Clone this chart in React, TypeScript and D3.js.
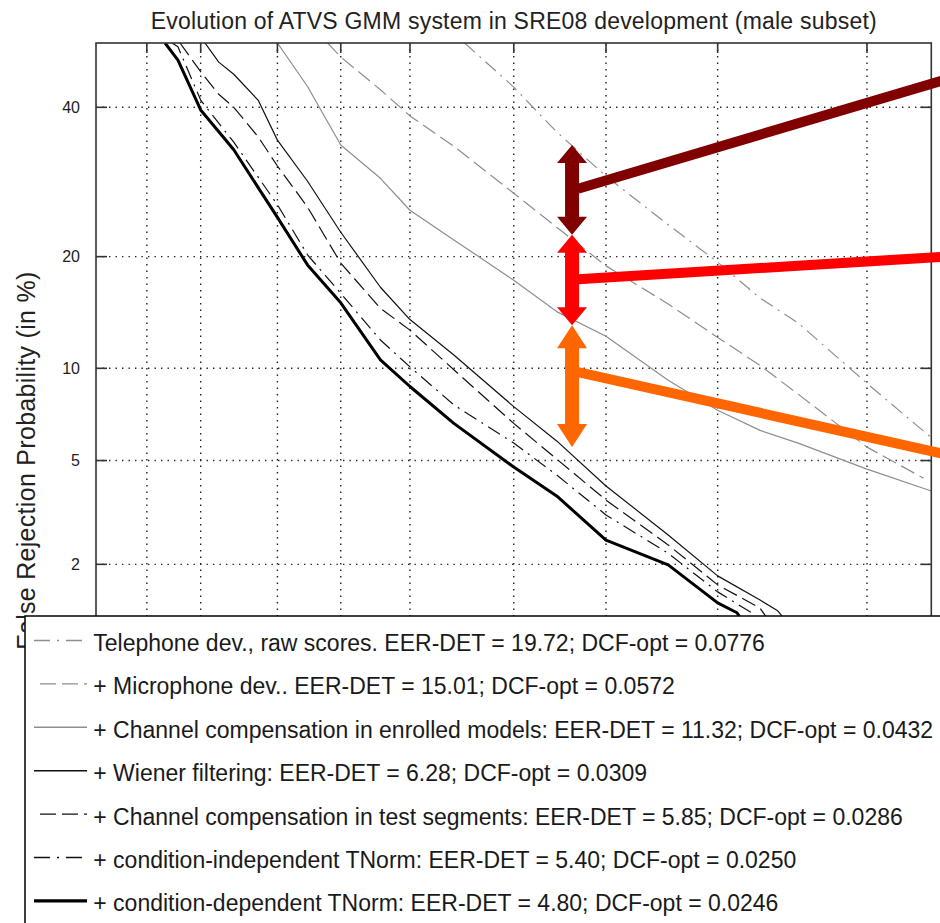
import React from 'react';
import * as d3 from 'd3';

// Inverse of the standard normal CDF (Acklam's rational approximation)
function probit(p: number): number {
  const a = [-3.969683028665376e1, 2.209460984245205e2, -2.759285104469687e2, 1.38357751867269e2, -3.066479806614716e1, 2.506628277459239];
  const b = [-5.447609879822406e1, 1.615858368580409e2, -1.556989798598866e2, 6.680131188771972e1, -1.328068155288572e1];
  const c = [-7.784894002430293e-3, -3.223964580411365e-1, -2.400758277161838, -2.549732539343734, 4.374664141464968, 2.938163982698783];
  const d = [7.784695709041462e-3, 3.224671290700398e-1, 2.445134137142996, 3.754408661907416];
  const pLow = 0.02425;
  if (p < pLow) {
    const q = Math.sqrt(-2 * Math.log(p));
    return (((((c[0] * q + c[1]) * q + c[2]) * q + c[3]) * q + c[4]) * q + c[5]) /
      ((((d[0] * q + d[1]) * q + d[2]) * q + d[3]) * q + 1);
  }
  if (p <= 1 - pLow) {
    const q = p - 0.5;
    const r = q * q;
    return (((((a[0] * r + a[1]) * r + a[2]) * r + a[3]) * r + a[4]) * r + a[5]) * q /
      (((((b[0] * r + b[1]) * r + b[2]) * r + b[3]) * r + b[4]) * r + 1);
  }
  const q = Math.sqrt(-2 * Math.log(1 - p));
  return -(((((c[0] * q + c[1]) * q + c[2]) * q + c[3]) * q + c[4]) * q + c[5]) /
    ((((d[0] * q + d[1]) * q + d[2]) * q + d[3]) * q + 1);
}

const TITLE = 'Evolution of ATVS GMM system in SRE08 development (male subset)';
const Y_LABEL = 'False Rejection Probability (in %)';

// Axis limits and grid (percent)
const AXIS_MIN = 0.05;
const AXIS_MAX = 50;
const FA_GRID = [0.1, 0.2, 0.5, 1, 2, 5, 10, 20, 40];
const FR_TICKS = [2, 5, 10, 20, 40];

// DET curves: [false acceptance %, false rejection %]
const telephoneRaw = [[3.3, 50], [5, 43.1], [7, 36.3], [10, 30.0], [15, 23.7], [20, 19.4], [25, 15.75], [30, 13.5], [40, 9.0], [50, 6.0]];
const microphoneDev = [[0.87, 50], [1, 47.8], [1.5, 42.7], [2, 38.7], [3, 34.2], [5, 27.7], [7, 23.4], [10, 19.0], [15, 15.2], [20, 12.3], [25, 10.2], [30, 8.33], [40, 5.57], [48.8, 4.32]];
const channelEnrolled = [[0.5, 50], [0.7, 43.2], [1, 34.4], [1.5, 29.7], [2, 25.5], [3, 21.9], [5, 17.5], [7, 14.5], [10, 12.4], [15, 9.2], [20, 7.4], [25, 6.35], [30, 5.75], [40, 4.66], [50, 3.88]];
const wienerFiltering = [[0.211, 50], [0.25, 47.0], [0.3, 45.1], [0.4, 41.1], [0.5, 35.1], [0.7, 29.3], [1, 22.8], [1.5, 16.8], [2, 13.8], [3, 10.95], [5, 7.6], [7, 5.85], [10, 4.05], [15, 2.63], [20, 1.79], [25, 1.41], [27.2, 1.27], [28.9, 1.09]];
const channelTest = [[0.154, 50], [0.2, 45.5], [0.25, 42.0], [0.3, 40.0], [0.4, 35.6], [0.5, 31.4], [0.7, 25.9], [1, 19.3], [1.5, 14.8], [2, 12.9], [3, 9.9], [5, 6.7], [7, 5.06], [10, 3.59], [15, 2.40], [20, 1.64], [25, 1.30], [26.5, 1.09]];
const tnormIndependent = [[0.139, 50], [0.15, 49.4], [0.2, 41.1], [0.3, 34.8], [0.5, 26.2], [0.7, 20.2], [1, 16.2], [1.5, 12.1], [2, 10.1], [3, 7.7], [5, 5.75], [7, 4.44], [10, 3.15], [15, 2.22], [20, 1.53], [23.8, 1.25], [25.3, 1.09]];
const tnormDependent = [[0.127, 50], [0.15, 47.3], [0.2, 39.6], [0.3, 33.7], [0.5, 24.6], [0.7, 19.1], [1, 15.3], [1.5, 10.6], [2, 8.8], [3, 6.7], [5, 4.74], [7, 3.72], [10, 2.51], [15, 1.99], [20, 1.37], [22.2, 1.24], [23.2, 1.09]];

const SERIES_DATA = [telephoneRaw, microphoneDev, channelEnrolled, wienerFiltering, channelTest, tnormIndependent, tnormDependent];

const LEGEND_LABELS = [
  'Telephone dev., raw scores. EER-DET = 19.72; DCF-opt = 0.0776',
  '+ Microphone dev.. EER-DET = 15.01; DCF-opt = 0.0572',
  '+ Channel compensation in enrolled models: EER-DET = 11.32; DCF-opt = 0.0432',
  '+ Wiener filtering: EER-DET = 6.28; DCF-opt = 0.0309',
  '+ Channel compensation in test segments: EER-DET = 5.85; DCF-opt = 0.0286',
  '+ condition-independent TNorm: EER-DET = 5.40; DCF-opt = 0.0250',
  '+ condition-dependent TNorm: EER-DET = 4.80; DCF-opt = 0.0246',
];

const GREY = '#8e8e8e';
const DASH_DOT = '14,6,2,6';
const DASHED = '15,6';
const SERIES_STYLE = [
  { color: GREY, width: 1.2, dash: DASH_DOT, sampleStart: 34, sampleEnd: 82, sampleDash: '16,7,2,7' },
  { color: GREY, width: 1.2, dash: DASHED, sampleStart: 40, sampleEnd: 87, sampleDash: '16,6' },
  { color: GREY, width: 1.2, dash: 'none', sampleStart: 34, sampleEnd: 87, sampleDash: 'none' },
  { color: '#111', width: 1.2, dash: 'none', sampleStart: 34, sampleEnd: 87, sampleDash: 'none' },
  { color: '#111', width: 1.2, dash: DASHED, sampleStart: 40, sampleEnd: 87, sampleDash: '16,6' },
  { color: '#111', width: 1.2, dash: DASH_DOT, sampleStart: 34, sampleEnd: 82, sampleDash: '16,7,2,7' },
  { color: '#000', width: 3, dash: 'none', sampleStart: 34, sampleEnd: 87, sampleDash: 'none' },
];

// Improvement arrows, all at one false acceptance level (percent)
const ARROW_FA = 7.85;
const ARROW_TOP = [34.4, 22.5, 13.3];
const ARROW_BOTTOM = [22.5, 13.3, 5.57];
const LINK_START_FR = [28.3, 17.6, 9.74];
const LINK_END_FA = 52;
const LINK_END_FR = [44.2, 20.0, 5.27];
const ARROW_COLORS = ['#800000', '#ff0000', '#ff6600'];
const ARROW_HEAD = [18, 18, 23];

const FONT = '"Liberation Sans", Arial, Helvetica, sans-serif';

export default function App() {
  const W = 940;
  const H = 923;
  const left = 96;
  const top = 43;
  const size = 835.3;

  const x = d3.scaleLinear().domain([probit(AXIS_MIN / 100), probit(AXIS_MAX / 100)]).range([left, left + size]);
  const y = d3.scaleLinear().domain([probit(AXIS_MAX / 100), probit(AXIS_MIN / 100)]).range([top, top + size]);
  const px = (p: number) => x(probit(p / 100));
  const py = (p: number) => y(probit(p / 100));
  const line = d3.line<number[]>().x(d => px(d[0])).y(d => py(d[1]));

  const right = left + size;
  const bottom = top + size;

  const legendTop = 616;
  const legendLeft = 25;
  const rowGap = 43.4;
  const firstBaseline = 651;

  const shaftHalf = 7;
  const headHalf = 15;

  return (
    <svg width={W} height={H} viewBox={`0 0 ${W} ${H}`}
      style={{ position: 'absolute', left: 0, top: 0, display: 'block', background: '#fff' }}
      fontFamily={FONT}>
      <defs>
        <clipPath id="plot-area">
          <rect x={left} y={top} width={size} height={size} />
        </clipPath>
      </defs>
      <rect x={0} y={0} width={W} height={H} fill="#fff" />

      {/* dotted grid */}
      <g stroke="#222" strokeWidth={1.4} strokeDasharray="1.4,5.1">
        {FA_GRID.map(v => (
          <line key={`gx${v}`} x1={px(v)} x2={px(v)} y1={top} y2={bottom} />
        ))}
        {FR_TICKS.map(v => (
          <line key={`gy${v}`} x1={left} x2={right} y1={py(v)} y2={py(v)} />
        ))}
      </g>

      {/* DET curves */}
      <g clipPath="url(#plot-area)" fill="none" strokeLinejoin="round">
        {SERIES_DATA.map((data, i) => (
          <path key={i} d={line(data) || ''} stroke={SERIES_STYLE[i].color}
            strokeWidth={SERIES_STYLE[i].width}
            strokeDasharray={SERIES_STYLE[i].dash} />
        ))}
      </g>

      {/* frame and ticks */}
      <rect x={left} y={top} width={size} height={size} fill="none" stroke="#333" strokeWidth={1.6} />
      <g stroke="#333" strokeWidth={1.6}>
        {FA_GRID.map(v => (
          <line key={`tx${v}`} x1={px(v)} x2={px(v)} y1={top} y2={top + 10} />
        ))}
        {FR_TICKS.map(v => (
          <g key={`ty${v}`}>
            <line x1={left} x2={left + 11} y1={py(v)} y2={py(v)} />
            <line x1={right} x2={right - 11} y1={py(v)} y2={py(v)} />
          </g>
        ))}
      </g>
      <g fontSize={16} fill="#222" textAnchor="end">
        {FR_TICKS.map(v => (
          <text key={`ly${v}`} x={80} y={py(v)} dy="0.36em">{v}</text>
        ))}
      </g>

      {/* title and axis label */}
      <text x={(left + right) / 2} y={29} fontSize={23} fill="#222" textAnchor="middle"
        textLength={726} lengthAdjust="spacing">{TITLE}</text>
      <text transform={`translate(35,${(top + bottom) / 2}) rotate(-90)`} fontSize={25} fill="#222"
        textAnchor="middle" textLength={378} lengthAdjust="spacing">{Y_LABEL}</text>

      {/* improvement arrows with their links */}
      {ARROW_COLORS.map((color, i) => {
        const cx = px(ARROW_FA);
        const yt = py(ARROW_TOP[i]);
        const yb = py(ARROW_BOTTOM[i]);
        const h = ARROW_HEAD[i];
        const pts = [
          [cx, yt], [cx + headHalf, yt + h], [cx + shaftHalf, yt + h], [cx + shaftHalf, yb - h],
          [cx + headHalf, yb - h], [cx, yb], [cx - headHalf, yb - h], [cx - shaftHalf, yb - h],
          [cx - shaftHalf, yt + h], [cx - headHalf, yt + h],
        ];
        return (
          <g key={color}>
            <line x1={cx + shaftHalf - 1} y1={py(LINK_START_FR[i])} x2={px(LINK_END_FA)} y2={py(LINK_END_FR[i])}
              stroke={color} strokeWidth={10} />
            <polygon points={pts.map(p => p.join(',')).join(' ')} fill={color} />
          </g>
        );
      })}

      {/* legend */}
      <rect x={legendLeft} y={legendTop} width={1000} height={400} fill="#fff" stroke="#111" strokeWidth={1.6} />
      {LEGEND_LABELS.map((label, i) => {
        const base = firstBaseline + i * rowGap;
        const st = SERIES_STYLE[i];
        return (
          <g key={label}>
            <line x1={st.sampleStart} x2={st.sampleEnd} y1={base - 10.5} y2={base - 10.5}
              stroke={st.color} strokeWidth={st.width === 3 ? 3.4 : 1.4} strokeDasharray={st.sampleDash} />
            <text x={93.3} y={base} fontSize={23} fill="#1a1a1a">{label}</text>
          </g>
        );
      })}
    </svg>
  );
}
